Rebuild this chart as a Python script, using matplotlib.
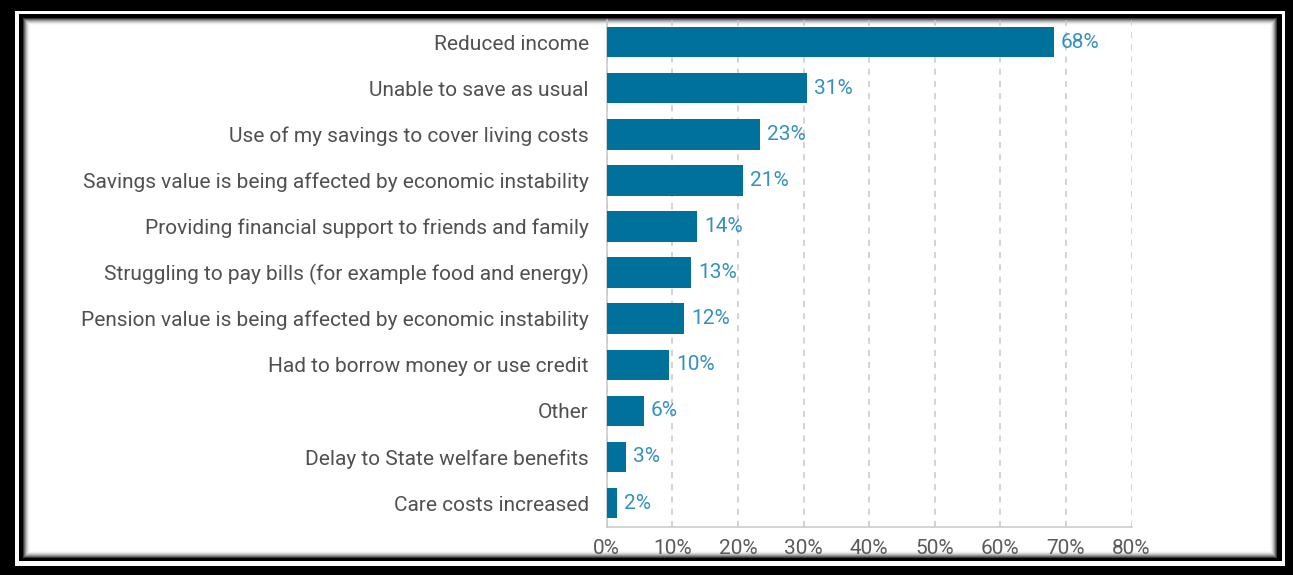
import matplotlib
matplotlib.use("Agg")
import matplotlib.pyplot as plt
from matplotlib.patches import Rectangle

# Data
categories = [
    "Reduced income",
    "Unable to save as usual",
    "Use of my savings to cover living costs",
    "Savings value is being affected by economic instability",
    "Providing financial support to friends and family",
    "Struggling to pay bills (for example food and energy)",
    "Pension value is being affected by economic instability",
    "Had to borrow money or use credit",
    "Other",
    "Delay to State welfare benefits",
    "Care costs increased",
]
values = [68.1, 30.6, 23.4, 20.8, 13.8, 12.9, 11.8, 9.5, 5.7, 3.0, 1.6]
xticks = [0, 10, 20, 30, 40, 50, 60, 70, 80]

W, H = 1293, 575
plt.rcParams['font.family'] = ['Roboto', 'DejaVu Sans']

fig = plt.figure(figsize=(W / 100, H / 100), dpi=100)
fig.patch.set_facecolor('black')


def px_rect(x0, y0, x1, y1, color, z):
    # pixel box (top-left origin) -> figure fraction rectangle
    r = Rectangle((x0 / W, 1 - y1 / H), (x1 - x0) / W, (y1 - y0) / H,
                  transform=fig.transFigure, facecolor=color,
                  edgecolor='none', zorder=z)
    fig.add_artist(r)


# screenshot frame: black border, white line, black line, soft shadow
px_rect(15, 11, 1285, 566, 'white', -20)
px_rect(19, 14, 1282, 561, 'black', -19)
shades = ['#3a3a3a', '#6a6a6a', '#959595', '#b9b9b9', '#d6d6d6', '#ececec', '#f8f8f8']
for i, c in enumerate(shades):
    px_rect(23 + i, 18 + i, 1277 - i, 558 - i, c, -18 + i)
px_rect(23 + len(shades), 18 + len(shades), 1277 - len(shades), 558 - len(shades), 'white', -10)

ax = fig.add_axes([606.7 / W, 1 - 527 / H, (1131.6 - 606.7) / W, (527 - 20) / H])
ax.set_facecolor('none')

bar_color = '#00719a'
y = list(range(len(categories)))
bars = ax.barh(y, values, height=0.66, color=bar_color, zorder=3)
ax.bar_label(bars, labels=[f"{round(v)}%" for v in values], padding=5,
             color='#3590bf', fontsize=15)

ax.set_ylim(10.52, -0.48)
ax.set_xlim(0, 80)
ax.set_yticks(y)
ax.set_yticklabels(categories, fontsize=15, color='#505050')
ax.set_xticks(xticks)
ax.set_xticklabels([f"{t}%" for t in xticks], fontsize=15, color='#5a5a5a')
ax.tick_params(axis='both', length=0)
ax.tick_params(axis='y', pad=13)
ax.tick_params(axis='x', pad=9)

ax.xaxis.grid(True, linestyle=(0, (4, 4)), color='#c8c8c8', linewidth=1.1, zorder=0)
ax.set_axisbelow(True)
for s in ['top', 'right']:
    ax.spines[s].set_visible(False)
for s in ['left', 'bottom']:
    ax.spines[s].set_color('#c8c8c8')
    ax.spines[s].set_linewidth(1.1)

fig.savefig('out.png', dpi=100, facecolor=fig.get_facecolor())
